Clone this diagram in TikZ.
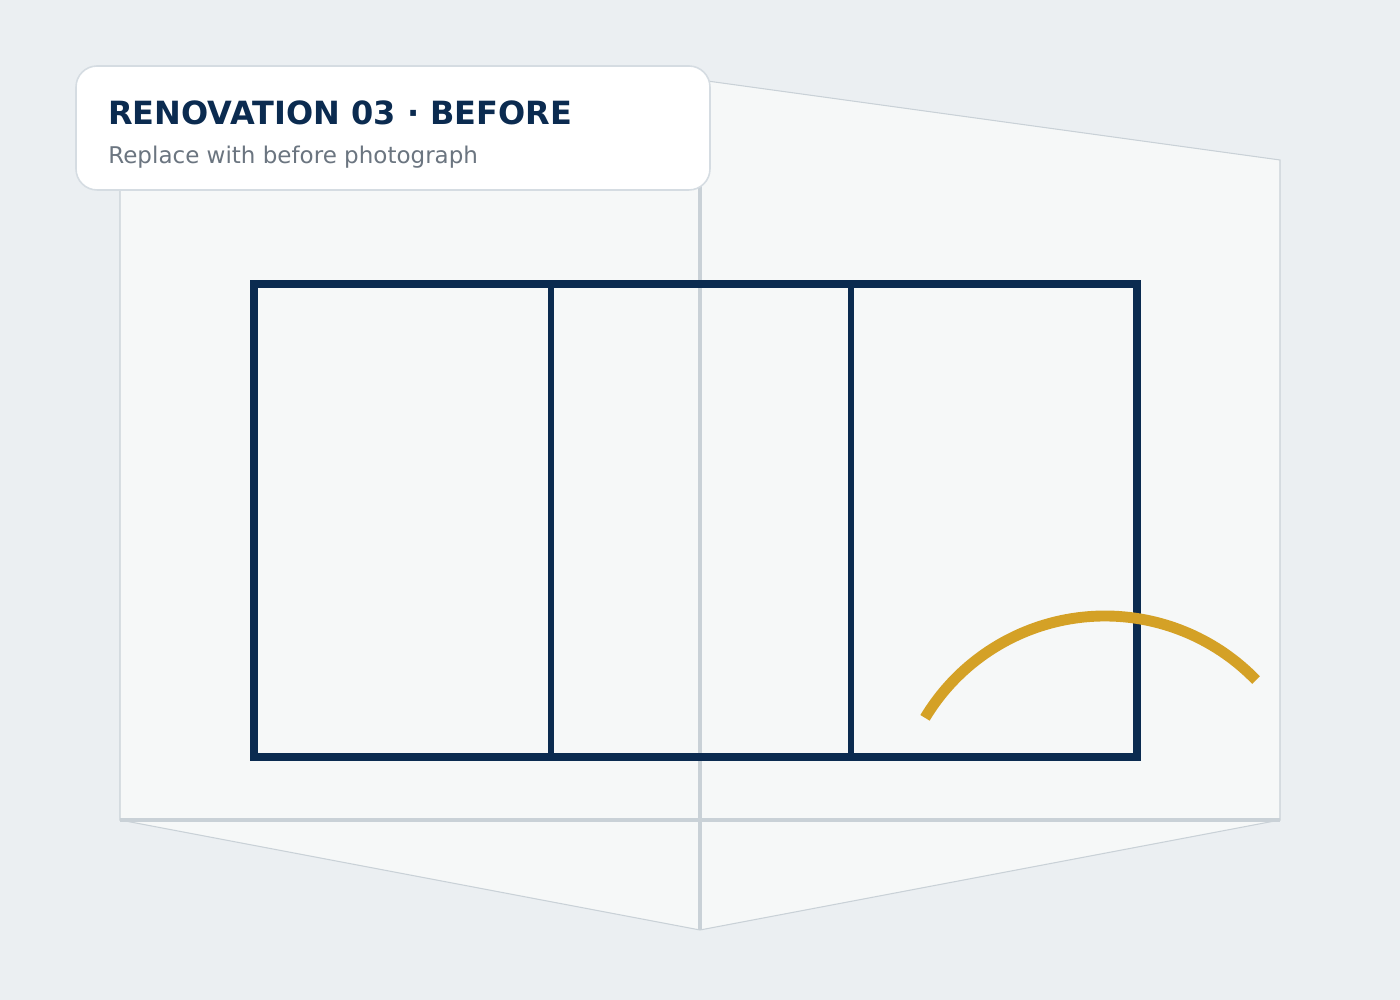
\documentclass[tikz,border=0pt]{standalone}
\usepackage{fontspec}
\setmainfont{DejaVu Sans}
\usepackage{tikz}
\definecolor{bgcol}{HTML}{EBEFF2}
\definecolor{wallcol}{HTML}{F6F8F8}
\definecolor{edgecol}{HTML}{C9D1D7}
\definecolor{navy}{HTML}{0B2B50}
\definecolor{gold}{HTML}{D4A126}
\definecolor{subcol}{HTML}{6B7580}
\definecolor{cardline}{HTML}{D5DCE2}

\begin{document}
\begin{tikzpicture}[x=0.02cm,y=0.02cm,
  wall/.style={fill=wallcol,draw=edgecol,line width=0.6pt},
  seam/.style={draw=edgecol,line width=2.4pt},
  frame/.style={draw=navy,line width=4pt},
  mullion/.style={draw=navy,line width=3pt}]
  \fill[bgcol] (0,0) rectangle (1400,1000);
  \useasboundingbox (0,0) rectangle (1400,1000);
  % room
  \draw[wall] (120,840) -- (700,920) -- (700,180) -- (120,180) -- cycle;
  \draw[wall] (700,920) -- (1280,840) -- (1280,180) -- (700,180) -- cycle;
  \draw[wall] (120,180) -- (700,70) -- (1280,180) -- cycle;
  \coordinate (floorL) at (120,180);
  \coordinate (floorR) at (1280,180);
  \coordinate (cornerT) at (700,920);
  \coordinate (cornerB) at (700,70);
  \draw[seam,line width=2.8pt] (floorL) -- (floorR);
  \draw[seam] (cornerT) -- (cornerB);
  % window
  \coordinate (winSW) at (254,243);
  \coordinate (winNE) at (1137,716);
  \draw[frame] (winSW) rectangle (winNE);
  \draw[mullion] (551,243) -- (551,716);
  \draw[mullion] (851,243) -- (851,716);
  % arc
  \draw[gold,line width=6.2pt] (1105,174) ++(149:210) arc[start angle=149,end angle=44,radius=210];
  % card
  \draw[fill=white,draw=cardline,line width=0.9pt,rounded corners=12pt] (76,934) rectangle (710,810);
  \node[anchor=base west,inner sep=0pt,text=navy,font=\fontsize{18.2}{20}\selectfont\bfseries] (title) at (108,875) {RENOVATION 03 · BEFORE};
  \node[anchor=base west,inner sep=0pt,text=subcol,font=\fontsize{13.1}{15}\selectfont] (sub) at (108,836) {Replace with before photograph};
\end{tikzpicture}
\end{document}
